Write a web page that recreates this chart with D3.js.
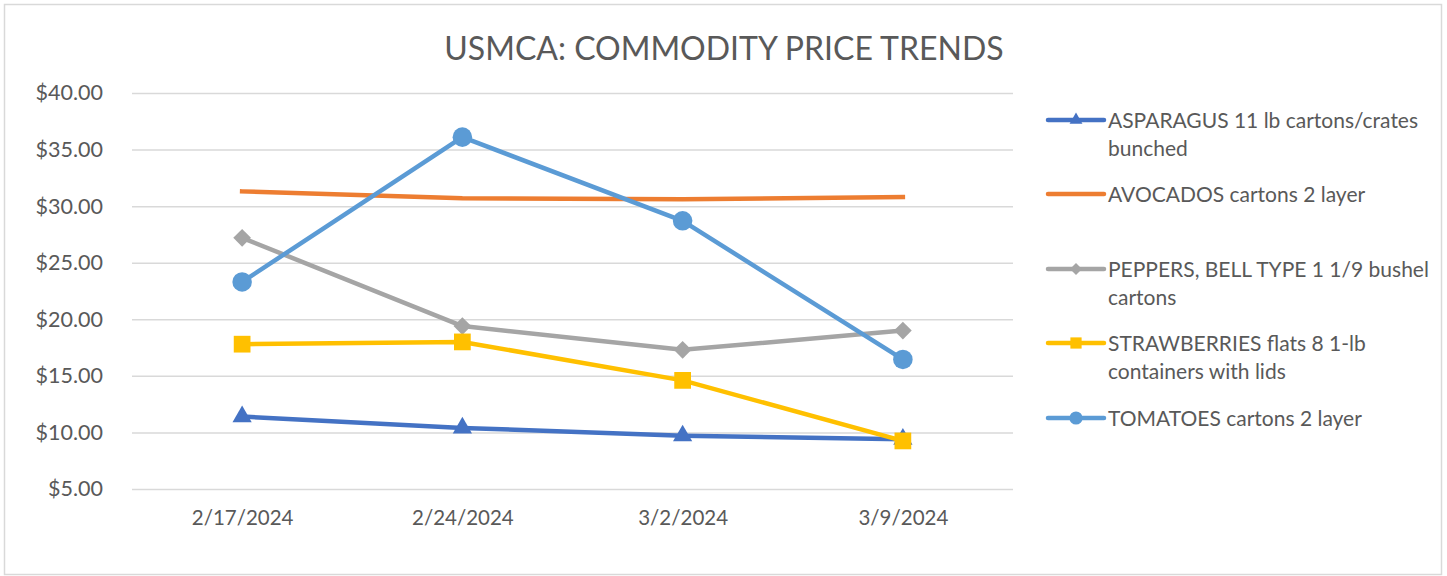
<!DOCTYPE html>
<html>
<head>
<meta charset="utf-8">
<script src="https://cdn.jsdelivr.net/npm/d3@7"></script>
<style>
  body { margin: 0; background: #fff; }
  svg text { font-family: Lato, "Open Sans", sans-serif; fill: #595959; }
</style>
</head>
<body>
<div id="chart"></div>
<script>
// Data
const dates = ['2/17/2024', '2/24/2024', '3/2/2024', '3/9/2024'];
const asparagus = [11.4, 10.4, 9.7, 9.4];
const avocados = [31.3, 30.7, 30.6, 30.8];
const peppers = [27.2, 19.4, 17.3, 19.0];
const strawberries = [17.8, 18.0, 14.6, 9.25];
const tomatoes = [23.3, 36.1, 28.7, 16.45];
const yTicks = [5, 10, 15, 20, 25, 30, 35, 40];

const series = [
    { name: ['ASPARAGUS 11 lb cartons/crates', 'bunched'], values: asparagus, color: '#4472c4', marker: 'triangle' },
    { name: ['AVOCADOS cartons 2 layer'], values: avocados, color: '#ed7d31', marker: 'none' },
    { name: ['PEPPERS, BELL TYPE 1 1/9 bushel', 'cartons'], values: peppers, color: '#a5a5a5', marker: 'diamond' },
    { name: ['STRAWBERRIES flats 8 1-lb', 'containers with lids'], values: strawberries, color: '#ffc000', marker: 'square' },
    { name: ['TOMATOES cartons 2 layer'], values: tomatoes, color: '#5b9bd5', marker: 'circle' }
];

const svgWidth = 1447;
const svgHeight = 576;
const margin = { top: 93, right: 434, bottom: 87, left: 132 };
const width = svgWidth - margin.left - margin.right;
const height = svgHeight - margin.top - margin.bottom;

const svg = d3.select('#chart')
    .append('svg')
    .attr('width', svgWidth)
    .attr('height', svgHeight);

// Outer border
svg.append('rect')
    .attr('x', 4.5).attr('y', 4.5)
    .attr('width', 1437).attr('height', 570)
    .attr('fill', '#fff')
    .attr('stroke', '#d9d9d9')
    .attr('stroke-width', 1.5);

// Title
svg.append('text')
    .attr('x', 724)
    .attr('y', 60)
    .attr('text-anchor', 'middle')
    .style('font-size', '32px')
    .text('USMCA: COMMODITY PRICE TRENDS');

const g = svg.append('g')
    .attr('transform', `translate(${margin.left},${margin.top})`);

// Scales
const xScale = d3.scalePoint()
    .domain(dates)
    .range([0, width])
    .padding(0.5);
const yScale = d3.scaleLinear()
    .domain([5, 40])
    .range([396, 0]);

// Gridlines + y labels
const yAxis = g.append('g')
    .call(d3.axisLeft(yScale)
        .tickValues(yTicks)
        .tickSize(-width)
        .tickPadding(29)
        .tickFormat(d => '$' + d.toFixed(2)));
yAxis.select('.domain').remove();
yAxis.selectAll('line').attr('stroke', '#d9d9d9').attr('stroke-width', 1.5);
yAxis.selectAll('text').style('font-size', '21.5px').attr('fill', '#595959');

// X labels
const xAxis = g.append('g')
    .attr('transform', `translate(0,${yScale(5)})`)
    .call(d3.axisBottom(xScale).tickSize(0).tickPadding(21));
xAxis.select('.domain').remove();
xAxis.selectAll('text').style('font-size', '20.5px').attr('fill', '#595959');

// Marker helper
function drawMarker(sel, type, color, size) {
    if (type === 'none') return;
    const shapes = {
        triangle: d3.symbolTriangle,
        diamond: d3.symbolDiamond2,
        square: d3.symbolSquare,
        circle: d3.symbolCircle
    };
    const areas = { triangle: 160, diamond: 200, square: 280, circle: 300 };
    sel.append('path')
        .attr('d', d3.symbol().type(shapes[type]).size(areas[type] * size)())
        .attr('fill', color);
}

const line = d3.line()
    .x((d, i) => xScale(dates[i]))
    .y(d => yScale(d));

series.forEach(s => {
    g.append('path')
        .datum(s.values)
        .attr('d', line)
        .attr('fill', 'none')
        .attr('stroke', s.color)
        .attr('stroke-width', 4.5)
        .attr('stroke-linejoin', 'round')
        .attr('stroke-linecap', s.marker === 'none' ? 'square' : 'round');

    s.values.forEach((v, i) => {
        const m = g.append('g')
            .attr('transform', `translate(${xScale(dates[i])},${yScale(v)})`);
        drawMarker(m, s.marker, s.color, 1);
    });
});

// Legend
const legendY = [120, 194, 269, 343, 418];
const legend = svg.append('g');
series.forEach((s, i) => {
    const item = legend.append('g')
        .attr('transform', `translate(1048,${legendY[i]})`);
    item.append('line')
        .attr('x1', 0).attr('x2', 56)
        .attr('stroke', s.color)
        .attr('stroke-width', 4.5)
        .attr('stroke-linecap', 'round');
    const m = item.append('g').attr('transform', 'translate(28,0)');
    drawMarker(m, s.marker, s.color, 0.45);
    s.name.forEach((t, j) => {
        item.append('text')
            .attr('x', 60)
            .attr('y', j * 28 + 7.5)
            .style('font-size', '21px')
            .text(t);
    });
});
</script>
</body>
</html>
